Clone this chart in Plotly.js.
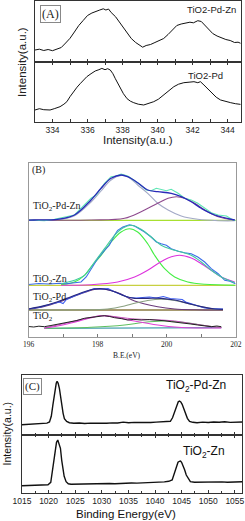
<!DOCTYPE html>
<html><head><meta charset="utf-8">
<script src="https://cdn.plot.ly/plotly-3.0.1.min.js"></script>
<style>html,body{margin:0;padding:0;background:#fff}#g{width:245px;height:521px}</style>
</head><body><div id="g"></div>
<script>
// ---------- Panel A : Pd 3d ----------
const aTopX = [333.0,333.25,333.5,333.75,334.0,334.25,334.5,334.75,335.0,335.25,335.5,335.75,336.0,336.25,336.5,336.7,336.9,337.05,337.2,337.35,337.6,337.85,338.1,338.3,338.5,338.75,339.0,339.15,339.35,339.6,339.85,340.1,340.35,340.6,340.85,341.1,341.35,341.6,341.85,342.05,342.3,342.5,342.7,342.95,343.15,343.4,343.65,343.9,344.15,344.4,344.6,344.75];
const aTopY = [12.0,12.8,11.5,12.5,11.3,12.7,14.5,19.0,23.7,30.0,36.5,41.5,46.5,49.0,51.0,52.0,53.2,52.0,53.0,49.5,45.3,39.0,32.5,27.5,23.5,19.5,16.5,14.8,16.5,17.5,19.5,21.5,23.5,27.5,32.0,36.5,38.0,39.0,39.8,39.2,41.3,40.5,36.8,32.0,28.5,26.0,24.0,22.5,21.5,19.5,19.8,18.7];
const aBotX = [333.0,333.25,333.5,333.86,334.1,334.43,334.65,334.82,335.0,335.2,335.4,335.58,335.8,335.96,336.2,336.44,336.65,336.82,337.0,337.15,337.3,337.45,337.59,337.75,337.87,338.05,338.26,338.45,338.64,338.9,339.21,339.5,339.78,340.05,340.36,340.65,340.93,341.2,341.5,341.8,342.08,342.3,342.45,342.65,342.9,343.13,343.35,343.6,343.9,344.18,344.45,344.75];
const aBotY = [11.7,13.0,12.0,11.7,13.0,15.0,17.5,20.0,25.0,30.0,34.5,38.0,42.0,45.0,48.0,50.7,52.0,53.3,52.0,53.0,51.7,48.0,43.0,38.0,33.0,28.0,23.0,20.5,19.0,17.5,16.7,18.0,20.0,22.5,26.7,31.0,35.0,37.5,39.0,39.5,40.0,39.0,40.0,36.7,32.5,28.3,24.5,21.7,20.0,19.0,18.0,17.3];
const aTickVals = [334,336,338,340,342,344];

// ---------- Panel B : fitted spectra ----------
// TiO2-Pd-Zn
const bPdZnRawX = [196.0,196.16,196.46,196.75,197.33,197.81,197.96,198.2,198.39,198.54,198.68,198.87,199.02,199.21,199.41,199.55,199.7,199.84,199.99,200.13,200.33,200.52,200.71,200.9,201.1,201.29,201.49,201.73,201.88,201.99];
const bPdZnRawY = [117,117,116.3,117.7,122,138.7,142,153.7,160.3,161,163,161,157.7,153,147,146.3,148.7,147.7,146.3,147.7,143.7,138.7,137,133.7,128.7,124.3,122,121,117.7,116.3];
const bPdZnFitX = [196.0,196.16,196.84,197.33,197.81,198.1,198.39,198.68,198.87,199.16,199.45,199.74,200.13,200.42,200.71,201.0,201.39,201.97];
const bPdZnFitY = [116.8,117,117.7,122,137,148.7,158.7,162,160.3,154.3,147,145.3,143.7,140.3,135.3,128.7,122,117];
const bPdZnC1X = [196.0,196.84,197.33,197.81,198.1,198.39,198.68,198.87,199.16,199.45,199.74,200.04,200.42,200.9,201.49,201.97];
const bPdZnC1Y = [116.8,117.3,121.3,135,146,157,161.5,160.3,152,143.7,133.7,127,121,117.7,116.3,116.2];
const bPdZnC2X = [196.0,196.84,197.81,198.78,199.26,199.74,200.04,200.28,200.52,200.81,201.1,201.49,201.97];
const bPdZnC2Y = [116.7,116.7,117,118.7,125.3,133.7,138.7,140.3,138.7,133.7,127,120.3,117];
const bPdZnBaseX = [196.0,202.0];
const bPdZnBaseY = [116.7,116.7];
// TiO2-Zn
const bZnRawX = [196.0,196.3,196.6,196.9,197.1,197.33,197.52,197.67,197.81,198.0,198.2,198.34,198.49,198.58,198.73,198.92,199.07,199.21,199.36,199.55,199.7,199.84,199.99,200.13,200.33,200.52,200.71,200.9,201.1,201.29,201.49,201.68,201.83,201.99];
const bZnRawY = [52.5,53.5,53.0,53.8,53.3,54.0,55.0,60.0,68.3,78.3,86.7,91.7,101.7,106.7,110,112.3,111,108.3,105,100,95,93.3,91.7,88.3,85.7,84.3,83.3,80,75,68.3,63.3,56.7,55.7,53.3];
const bZnFitX = [196.94,197.33,197.62,197.91,198.2,198.49,198.73,198.97,199.26,199.55,199.84,200.13,200.42,200.71,201.0,201.29,201.58,201.97];
const bZnFitY = [53.3,56.7,61.7,75,88.3,101.7,109,111.7,107.7,100,91.7,87.7,85,81.7,75,66.7,60,54.3];
const bZnC1X = [196.94,197.33,197.62,197.81,198.1,198.39,198.68,198.92,199.16,199.45,199.65,199.94,200.23,200.61,201.1,201.97];
const bZnC1Y = [52.3,55,61.7,70,81.7,95,105,108.3,105,93.3,81.7,68.3,60,55,52.7,51.7];
const bZnC2X = [196.94,197.81,198.58,199.07,199.45,199.74,200.04,200.37,200.71,201.0,201.29,201.58,201.97];
const bZnC2Y = [51.7,52.3,55,60,66.7,73.3,79,81.7,79,73.3,66.7,60,55];
const bZnBaseX = [196.0,202.0];
const bZnBaseY = [51.7,51.7];
// TiO2-Pd
const bPdRawX = [196.0,196.3,196.6,196.9,197.0,197.1,197.4,197.7,197.9,198.1,198.3,198.5,198.7,198.9,199.1,199.3,199.5,199.7,199.9,200.1,200.3,200.45,200.55,200.7,200.9,201.1,201.3,201.5,201.63];
const bPdRawY = [28,29.5,32.5,35,33.5,37.5,42,46,48.5,48,48.5,45,42,39.5,39,39.5,40,39,40.5,38.5,38,37.5,35,33.5,31,29,28.5,28.3,28];
const bPdFitX = [196.0,196.46,196.84,197.23,197.62,197.91,198.2,198.49,198.78,199.07,199.45,199.84,200.23,200.61,201.0,201.39,201.63];
const bPdFitY = [28,31.3,35.3,40.3,45.3,48,48,45.3,41,38.7,38.7,38.7,37,33.7,30.3,28,27.7];
const bPdC1X = [196.0,196.46,196.84,197.23,197.62,197.91,198.1,198.39,198.68,199.07,199.74,200.23,200.8,201.63];
const bPdC1Y = [27.5,30.5,34.5,39.5,44.5,47.5,48,46.5,43,36,30.3,28,27.2,27];
const bPdC2X = [196.0,197.5,198.29,198.78,199.07,199.45,199.84,200.23,200.61,201.0,201.39,201.63];
const bPdC2Y = [27,27.2,28,31,33.7,36.5,37.7,36.5,33.5,30.3,28,27.5];
const bPdBaseX = [196.0,201.63];
const bPdBaseY = [27,27];
// TiO2
const bTiRawX = [196.0,196.15,196.3,196.46,196.65,196.84,197.0,197.23,197.4,197.62,197.8,198.0,198.2,198.35,198.49,198.7,198.87,199.05,199.26,199.5,199.74,199.95,200.13,200.3,200.52,200.7,200.9,201.1,201.29,201.45,201.58];
const bTiRawY = [10.5,10.0,10.8,10.3,11.5,12.7,13.5,15.3,16.5,18.7,19.5,20.3,21.3,20.5,19.3,18.3,17,17.6,17,17.4,17,16.2,15.3,14.8,13.7,13.0,12,11.3,10.3,11.0,10.3];
const bTiFitX = [196.46,196.84,197.23,197.62,197.91,198.1,198.39,198.68,199.07,199.45,199.84,200.23,200.61,201.0,201.3,201.58];
const bTiFitY = [9,12,15,18.5,20.3,21.5,20.8,19.5,18,17.5,17,16,14,12,10.5,9.5];
const bTiC1X = [196.46,196.84,197.23,197.62,197.91,198.1,198.39,198.68,199.07,199.74,200.33,200.9,201.58];
const bTiC1Y = [8.7,11,14,17.5,20,21.3,20.5,18.7,16,12,9.7,9,9];
const bTiC2X = [196.46,197.81,198.78,199.3,199.9,200.4,200.9,201.3,201.58];
const bTiC2Y = [8.7,9.7,12,14.5,16,15,12.5,10.5,9.5];
const bTiBaseX = [196.46,201.58];
const bTiBaseY = [8.7,9.3];
const bTickVals = [196,198,200,202];

// ---------- Panel C : Zn 2p ----------
const cTopX = [1014.95,1015.98,1017.01,1018.04,1019.07,1019.69,1020.17,1020.51,1020.80,1021.03,1021.23,1021.44,1021.60,1021.80,1022.04,1022.26,1022.48,1022.73,1022.97,1023.40,1023.91,1024.74,1025.77,1026.80,1027.83,1028.86,1029.89,1030.92,1031.95,1032.98,1034.02,1035.05,1036.08,1037.11,1038.14,1039.17,1040.20,1041.23,1042.06,1042.88,1043.29,1043.65,1043.91,1044.16,1044.37,1044.59,1044.84,1045.10,1045.41,1045.71,1046.08,1046.49,1047.11,1047.90,1048.96,1049.99,1051.02,1052.05,1053.09,1054.12,1055.15,1056.4];
const cTopY = [10.6,11.0,10.8,11.5,11.6,12.2,13.3,19,30,39,46.6,52,54,52,46.6,38,30,22,16.6,13.8,12.6,12.0,12.3,11.8,12.2,11.9,12.3,12.0,12.4,12.3,13.2,12.6,12.9,12.7,13.0,12.8,13.2,13.3,13.4,14.0,17.5,23.3,27.5,31.0,33.5,34.3,33.3,31.0,26.5,21.6,17.0,14.0,13.0,12.6,13.2,12.8,13.3,13.0,13.5,12.9,13.3,13.3];
const cBotX = [1014.95,1015.98,1017.01,1018.04,1019.07,1019.89,1020.41,1020.80,1021.03,1021.23,1021.49,1021.73,1021.95,1022.23,1022.47,1022.67,1022.93,1023.29,1023.71,1024.22,1025.25,1026.28,1027.31,1028.35,1029.38,1030.41,1031.44,1032.47,1033.50,1034.53,1035.56,1036.59,1037.62,1038.65,1039.68,1040.72,1041.75,1042.57,1043.22,1043.50,1043.81,1044.07,1044.32,1044.58,1044.79,1044.99,1045.25,1045.56,1045.87,1046.23,1046.64,1047.42,1048.45,1049.48,1050.51,1051.54,1052.57,1053.60,1054.63,1056.4];
const cBotY = [7.6,7.9,7.7,8.1,8.3,8.6,11.0,25,36,45,51,53.3,50.5,45,33,25,17,11.6,9.5,9.0,9.2,9.0,9.4,9.3,9.6,9.5,9.8,9.6,10.0,10.1,10.3,10.2,10.6,10.8,11.0,11.2,11.4,12.0,13.3,17.5,23.3,27.5,31.0,32.0,32.3,31.0,28.3,23.5,18.3,14.5,11.6,11.0,11.2,11.0,11.3,11.1,11.4,11.0,11.3,11.5];
const cTickVals = [1015,1020,1025,1030,1035,1040,1045,1050,1055];

// ---------- build ----------
const SANS = '"Liberation Sans", Arial, sans-serif';
const SERIF = '"Liberation Serif", "Times New Roman", serif';
function ln(x, y, xa, ya, color, w, spline) {
  return {x: x, y: y, xaxis: xa, yaxis: ya, type: 'scatter', mode: 'lines',
    line: {color: color, width: w, shape: spline ? 'spline' : 'linear'}, hoverinfo: 'skip'};
}
const traces = [
  ln(aTopX, aTopY, 'x2', 'y2', '#111', 1),
  ln(aBotX, aBotY, 'x', 'y', '#111', 1),
  // B
  ln(bPdZnBaseX, bPdZnBaseY, 'x3', 'y3', '#a8e030', 1.3),
  ln(bPdZnC1X, bPdZnC1Y, 'x3', 'y3', '#a3a9c7', 1.1, true),
  ln(bPdZnC2X, bPdZnC2Y, 'x3', 'y3', '#8e4a8e', 1.1, true),
  ln(bPdZnRawX, bPdZnRawY, 'x3', 'y3', '#5ee6b4', 1.1),
  ln(bPdZnFitX, bPdZnFitY, 'x3', 'y3', '#2a2ab8', 1.3, true),
  ln(bZnBaseX, bZnBaseY, 'x3', 'y3', '#c8d040', 1.3),
  ln(bZnC1X, bZnC1Y, 'x3', 'y3', '#44ee44', 1.1, true),
  ln(bZnC2X, bZnC2Y, 'x3', 'y3', '#dd33dd', 1.1, true),
  ln(bZnRawX, bZnRawY, 'x3', 'y3', '#3a6ee8', 1.1),
  ln(bZnFitX, bZnFitY, 'x3', 'y3', '#40c8a0', 1.1, true),
  ln(bPdBaseX, bPdBaseY, 'x3', 'y3', '#8a7a40', 1.3),
  ln(bPdC1X, bPdC1Y, 'x3', 'y3', '#6a3a7a', 1.1, true),
  ln(bPdC2X, bPdC2Y, 'x3', 'y3', '#8aa080', 1.1, true),
  ln(bPdRawX, bPdRawY, 'x3', 'y3', '#3c5cf0', 1.1),
  ln(bPdFitX, bPdFitY, 'x3', 'y3', '#2a2a80', 1.2, true),
  ln(bTiBaseX, bTiBaseY, 'x3', 'y3', '#4aa0b0', 1.3),
  ln(bTiC2X, bTiC2Y, 'x3', 'y3', '#60c060', 1.1, true),
  ln(bTiC1X, bTiC1Y, 'x3', 'y3', '#e040d8', 1.1, true),
  ln(bTiFitX, bTiFitY, 'x3', 'y3', '#c050b8', 1.0, true),
  ln(bTiRawX, bTiRawY, 'x3', 'y3', '#222', 1.0),
  // C
  ln(cTopX, cTopY, 'x5', 'y5', '#111', 1.4),
  ln(cBotX, cBotY, 'x4', 'y4', '#111', 1.4)
];

const axA = {range: [333, 344.75], showline: true, linecolor: '#333', linewidth: 1, mirror: 'ticks',
  ticks: 'inside', ticklen: 3, tickcolor: '#333', tickvals: aTickVals, ticktext: aTickVals.map(String),
  minor: {dtick: 1, tick0: 333, ticks: 'inside', ticklen: 3, tickcolor: '#333'},
  showgrid: false, zeroline: false, tickfont: {family: SANS, size: 8.5, color: '#222'},
  domain: [0.14286, 0.98245], fixedrange: true};
const yBase = {showline: true, linecolor: '#333', linewidth: 1, mirror: true, ticks: '', showticklabels: false,
  showgrid: false, zeroline: false, fixedrange: true};
const axC = {range: [1014.95, 1056.4], showline: true, linecolor: '#333', linewidth: 1, mirror: 'ticks',
  ticks: 'inside', ticklen: 3, tickcolor: '#333', tickvals: cTickVals, ticktext: cTickVals.map(String),
  minor: {dtick: 2.5, tick0: 1015, ticks: 'inside', ticklen: 2, tickcolor: '#333'},
  ticklabeloverflow: 'allow',
  showgrid: false, zeroline: false, tickfont: {family: SANS, size: 8.5, color: '#222'},
  domain: [0.08857, 0.98898], fixedrange: true};

function ann(text, xp, yp, o) {
  return Object.assign({text: text, x: xp / 245, y: 1 - yp / 521, xref: 'paper', yref: 'paper',
    showarrow: false, xanchor: 'center', yanchor: 'middle'}, o || {});
}
const annotations = [
  ann('(A)', 50, 13.5, {font: {family: SERIF, size: 12, color: '#222'}, bordercolor: '#888', borderwidth: 1, borderpad: 1}),
  ann('TiO2-Pd-Zn', 238, 9, {xanchor: 'right', font: {family: SANS, size: 9.5, color: '#222'}}),
  ann('TiO2-Pd', 225, 75, {xanchor: 'right', font: {family: SANS, size: 9.5, color: '#222'}}),
  ann('Intensity(a.u.)', 137.5, 140, {font: {family: SANS, size: 11.5, color: '#222'}}),
  ann('Intensity(a.u.)', 22, 62, {textangle: -90, font: {family: SANS, size: 11.5, color: '#222'}}),
  ann('(B)', 29.5, 170, {xanchor: 'left', font: {family: SERIF, size: 10, color: '#222'}}),
  ann('TiO<sub>2</sub>-Pd-Zn', 31, 206, {xanchor: 'left', font: {family: SERIF, size: 10, color: '#222'}}),
  ann('TiO<sub>2</sub>-Zn', 31, 279.5, {xanchor: 'left', font: {family: SERIF, size: 10, color: '#222'}}),
  ann('TiO<sub>2</sub>-Pd', 31, 297.5, {xanchor: 'left', font: {family: SERIF, size: 10, color: '#222'}}),
  ann('TiO<sub>2</sub>', 31, 316, {xanchor: 'left', font: {family: SERIF, size: 10, color: '#222'}}),
  ann('B.E.(eV)', 127, 355, {font: {family: SERIF, size: 7.5, color: '#222'}}),
  ann('(C)', 32.5, 386, {font: {family: SERIF, size: 11, color: '#222'}, bordercolor: '#888', borderwidth: 1, borderpad: 1}),
  ann('TiO<sub>2</sub>-Pd-Zn', 228, 386, {xanchor: 'right', font: {family: SANS, size: 12, color: '#111'}}),
  ann('TiO<sub>2</sub>-Zn', 227, 452, {xanchor: 'right', font: {family: SANS, size: 12, color: '#111'}}),
  ann('Intensity(a.u.)', 6.5, 434, {textangle: -90, font: {family: SANS, size: 10.5, color: '#111'}}),
  ann('Binding Energy(eV)', 126, 514, {font: {family: SANS, size: 11.5, color: '#111'}})
];

const layout = {
  width: 245, height: 521, margin: {l: 0, r: 0, t: 0, b: 0},
  paper_bgcolor: '#fff', plot_bgcolor: '#fff', showlegend: false, hovermode: false,
  xaxis: Object.assign({}, axA, {anchor: 'y'}),
  yaxis: Object.assign({}, yBase, {range: [0, 59.7], domain: [0.76641, 0.88100], anchor: 'x'}),
  xaxis2: Object.assign({}, axA, {anchor: 'y2', showticklabels: false, mirror: true}),
  yaxis2: Object.assign({}, yBase, {range: [0, 61], domain: [0.88100, 0.99808], anchor: 'x2'}),
  xaxis3: {range: [196, 202], domain: [0.11633, 0.96245], anchor: 'y3', showline: true, linecolor: '#999',
    linewidth: 1, mirror: true, ticks: 'inside', ticklen: 3, tickcolor: '#777', tickvals: bTickVals,
    ticktext: bTickVals.map(String), minor: {dtick: 1, tick0: 196, ticks: 'inside', ticklen: 3, tickcolor: '#777'},
    ticklabeloverflow: 'allow',
    showgrid: false, zeroline: false, tickfont: {family: SERIF, size: 7.5, color: '#222'}, fixedrange: true},
  yaxis3: Object.assign({}, yBase, {linecolor: '#999', range: [0, 174], domain: [0.35317, 0.68714], anchor: 'x3'}),
  xaxis4: Object.assign({}, axC, {anchor: 'y4'}),
  yaxis4: Object.assign({}, yBase, {range: [0, 58], domain: [0.05317, 0.16449], anchor: 'x4'}),
  xaxis5: Object.assign({}, axC, {anchor: 'y5', showticklabels: false, mirror: true}),
  yaxis5: Object.assign({}, yBase, {range: [0, 60.3], domain: [0.16449, 0.28023], anchor: 'x5'}),
  annotations: annotations
};
Plotly.newPlot('g', traces, layout, {staticPlot: true, displayModeBar: false});
</script></body></html>
